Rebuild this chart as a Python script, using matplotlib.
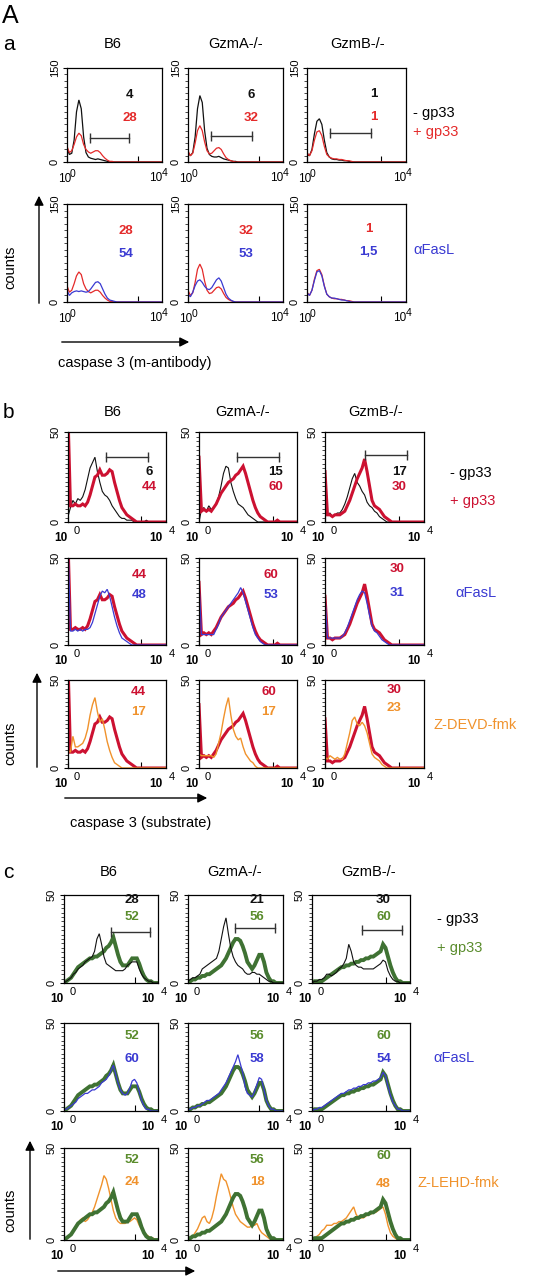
import numpy as np
import matplotlib
matplotlib.use('Agg')
import matplotlib.pyplot as plt
from matplotlib.patches import FancyArrowPatch
from matplotlib.ticker import MultipleLocator, NullFormatter

plt.rcParams['font.family'] = ['Liberation Sans', 'DejaVu Sans']

W, H = 542, 1280

# histogram bins, in decades of the log axis (10^0 .. 10^4)
decades = np.round(np.arange(0, 4.01, 0.1), 1)
samples = ['B6', 'GzmA-/-', 'GzmB-/-']

# ---- panel a : caspase 3 (m-antibody), counts 0-150
a_b6_ctrl = [22, 12, 14, 35, 80, 99, 85, 40, 15, 8, 6, 5, 4, 5, 4, 3, 2, 1, 0, 0,
             0, 0, 0, 0, 0, 0, 0, 0, 0, 0, 0, 0, 0, 0, 0, 0, 0, 0, 0, 0, 0]
a_b6_gp33 = [25, 15, 18, 28, 40, 46, 42, 28, 20, 16, 14, 16, 18, 18, 15, 10, 6, 3, 1, 1,
             0, 0, 0, 0, 0, 0, 0, 0, 0, 0, 0, 0, 0, 0, 0, 0, 0, 0, 0, 0, 0]
a_b6_fasl = [18, 10, 14, 16, 17, 16, 17, 16, 15, 16, 20, 25, 30, 31, 28, 20, 12, 6, 3, 2,
             1, 0, 0, 0, 0, 0, 0, 0, 0, 0, 0, 0, 0, 0, 0, 0, 0, 0, 0, 0, 0]
a_gzma_ctrl = [15, 10, 15, 40, 85, 106, 95, 50, 22, 12, 9, 8, 8, 9, 7, 5, 4, 3, 2, 1,
               1, 0, 0, 0, 0, 0, 0, 0, 0, 0, 0, 0, 0, 0, 0, 0, 0, 0, 0, 0, 0]
a_gzma_gp33 = [18, 10, 14, 30, 50, 58, 50, 32, 18, 13, 14, 18, 22, 23, 20, 13, 7, 4, 2, 1,
               0, 0, 0, 0, 0, 0, 0, 0, 0, 0, 0, 0, 0, 0, 0, 0, 0, 0, 0, 0, 0]
a_gzma_fasl = [12, 8, 15, 25, 32, 34, 30, 24, 20, 19, 22, 28, 34, 37, 32, 22, 12, 6, 3, 1,
               0, 0, 0, 0, 0, 0, 0, 0, 0, 0, 0, 0, 0, 0, 0, 0, 0, 0, 0, 0, 0]
a_gzmb_ctrl = [12, 10, 20, 45, 65, 69, 60, 35, 15, 8, 5, 4, 4, 3, 3, 2, 2, 1, 0, 0,
               0, 0, 0, 0, 0, 0, 0, 0, 0, 0, 0, 0, 0, 0, 0, 0, 0, 0, 0, 0, 0]
a_gzmb_gp33 = [15, 10, 18, 35, 48, 50, 42, 25, 12, 8, 6, 5, 5, 4, 4, 3, 2, 2, 1, 0,
               0, 0, 0, 0, 0, 0, 0, 0, 0, 0, 0, 0, 0, 0, 0, 0, 0, 0, 0, 0, 0]
a_gzmb_fasl = [14, 10, 18, 33, 46, 48, 40, 24, 12, 8, 6, 6, 5, 4, 3, 3, 2, 1, 0, 0,
               0, 0, 0, 0, 0, 0, 0, 0, 0, 0, 0, 0, 0, 0, 0, 0, 0, 0, 0, 0, 0]

# ---- panel b : caspase 3 (substrate), counts 0-50
b_b6_ctrl = [3, 8, 12, 10, 13, 12, 14, 18, 24, 30, 33, 36, 28, 22, 17, 15, 14, 12, 9, 7,
             5, 3, 2, 2, 1, 1, 1, 0, 0, 0, 0, 0, 1, 0, 0, 0, 0, 0, 0, 0, 0]
b_b6_gp33 = [60, 9, 9, 10, 9, 9, 10, 9, 11, 15, 20, 25, 26, 29, 26, 26, 27, 29, 28, 22,
             17, 12, 8, 6, 4, 3, 2, 1, 0, 0, 0, 0, 0, 0, 0, 0, 0, 0, 0, 0, 0]
b_b6_fasl = [60, 8, 8, 9, 8, 9, 8, 9, 9, 10, 13, 18, 23, 28, 31, 30, 32, 28, 22, 16,
             11, 7, 4, 3, 2, 1, 0, 0, 0, 0, 0, 0, 0, 0, 0, 0, 0, 0, 0, 0, 0]
b_b6_inh = [10, 9, 18, 12, 12, 13, 14, 17, 22, 30, 36, 40, 32, 26, 28, 22, 15, 10, 6, 3,
            2, 1, 0, 0, 0, 0, 0, 0, 0, 0, 0, 0, 0, 0, 0, 0, 0, 0, 0, 0, 0]
b_gzma_ctrl = [0, 7, 8, 6, 9, 7, 8, 10, 14, 20, 27, 31, 30, 22, 17, 13, 10, 9, 8, 6,
               4, 3, 2, 1, 0, 0, 0, 0, 0, 0, 0, 0, 0, 0, 0, 0, 0, 0, 0, 0, 0]
b_gzma_gp33 = [36, 6, 7, 6, 7, 6, 8, 10, 13, 16, 18, 20, 22, 23, 24, 26, 27, 29, 31, 27,
               22, 17, 12, 8, 5, 3, 2, 1, 0, 0, 0, 0, 1, 0, 0, 0, 0, 0, 0, 0, 0]
b_gzma_fasl = [36, 6, 6, 6, 6, 6, 6, 9, 12, 16, 18, 20, 22, 24, 26, 28, 30, 33, 30, 25,
               20, 15, 10, 6, 4, 2, 1, 0, 0, 0, 0, 0, 0, 0, 0, 0, 0, 0, 0, 0, 0]
b_gzma_inh = [8, 7, 7, 7, 7, 7, 6, 8, 14, 20, 28, 35, 40, 30, 22, 18, 16, 17, 12, 8,
              6, 4, 3, 1, 0, 0, 0, 0, 0, 0, 0, 0, 0, 0, 0, 0, 0, 0, 0, 0, 0]
b_gzmb_ctrl = [30, 4, 5, 3, 4, 5, 5, 7, 10, 14, 19, 24, 27, 22, 20, 17, 15, 11, 9, 8,
               6, 5, 3, 2, 1, 0, 0, 0, 0, 0, 0, 0, 0, 0, 0, 0, 0, 0, 0, 0, 0]
b_gzmb_gp33 = [28, 4, 4, 3, 4, 4, 4, 5, 6, 9, 12, 16, 20, 24, 27, 30, 35, 28, 20, 12,
               9, 8, 7, 5, 3, 2, 1, 0, 0, 0, 0, 0, 0, 0, 0, 0, 0, 0, 0, 0, 0]
b_gzmb_fasl = [28, 4, 4, 4, 4, 4, 4, 5, 7, 10, 14, 18, 22, 26, 29, 31, 30, 24, 17, 11,
               8, 7, 5, 3, 2, 1, 0, 0, 0, 0, 0, 0, 0, 0, 0, 0, 0, 0, 0, 0, 0]
b_gzmb_inh = [6, 5, 7, 6, 5, 6, 5, 5, 8, 14, 20, 27, 29, 25, 24, 26, 24, 20, 14, 8,
              6, 5, 4, 2, 1, 0, 0, 0, 0, 0, 0, 0, 0, 0, 0, 0, 0, 0, 0, 0, 0]

# ---- panel c : counts 0-50
c_b6_ctrl = [0, 1, 2, 3, 5, 6, 8, 9, 10, 12, 13, 14, 15, 18, 25, 28, 22, 15, 11, 10,
             9, 8, 7, 7, 7, 7, 8, 10, 11, 12, 12, 12, 8, 5, 3, 2, 1, 1, 0, 0, 0]
c_b6_gp33 = [0, 1, 2, 3, 5, 7, 9, 10, 11, 12, 13, 14, 14, 15, 15, 16, 17, 18, 20, 21,
             23, 26, 21, 16, 12, 10, 10, 10, 12, 14, 14, 14, 11, 7, 4, 2, 1, 1, 0, 0, 0]
c_b6_fasl = [1, 1, 2, 3, 4, 5, 7, 8, 9, 10, 10, 11, 12, 12, 13, 14, 16, 17, 18, 20,
             23, 26, 21, 16, 12, 10, 9, 10, 13, 17, 18, 16, 11, 6, 3, 1, 1, 0, 0, 0, 0]
c_b6_inh = [1, 1, 2, 3, 5, 7, 9, 11, 12, 10, 11, 13, 15, 18, 22, 26, 30, 35, 33, 28,
            22, 16, 12, 10, 9, 9, 9, 10, 10, 11, 12, 11, 8, 6, 4, 3, 2, 1, 1, 0, 0]
c_gzma_ctrl = [1, 2, 3, 3, 4, 5, 8, 9, 10, 11, 12, 13, 14, 18, 25, 32, 37, 28, 20, 15,
               12, 10, 9, 8, 6, 5, 5, 6, 6, 5, 5, 4, 3, 2, 1, 1, 0, 0, 0, 0, 0]
c_gzma_gp33 = [1, 1, 2, 2, 3, 3, 4, 4, 5, 5, 6, 7, 8, 9, 10, 12, 14, 17, 20, 23,
               25, 25, 24, 21, 17, 12, 10, 8, 10, 13, 16, 16, 12, 6, 3, 1, 1, 0, 0, 0, 0]
c_gzma_fasl = [1, 1, 2, 2, 3, 3, 4, 5, 6, 6, 7, 8, 9, 10, 12, 14, 16, 19, 22, 25,
               28, 32, 27, 22, 14, 10, 9, 8, 11, 15, 19, 18, 12, 6, 3, 1, 1, 0, 0, 0, 0]
c_gzma_inh = [1, 1, 2, 4, 6, 9, 12, 13, 10, 9, 12, 17, 24, 30, 36, 33, 32, 28, 23, 18,
              14, 12, 10, 9, 8, 7, 7, 8, 8, 9, 6, 4, 3, 2, 1, 0, 0, 0, 0, 0, 0]
c_gzmb_ctrl = [0, 1, 1, 2, 2, 3, 5, 5, 4, 5, 6, 8, 9, 11, 14, 22, 18, 12, 10, 9,
               9, 8, 8, 8, 8, 8, 9, 10, 11, 13, 12, 7, 4, 2, 1, 1, 0, 0, 0, 0, 0]
c_gzmb_gp33 = [0, 1, 1, 1, 1, 2, 3, 4, 5, 6, 7, 8, 9, 9, 10, 10, 11, 11, 12, 12,
               13, 13, 14, 14, 15, 15, 16, 17, 18, 22, 20, 15, 10, 6, 3, 1, 1, 0, 0, 0, 0]
c_gzmb_fasl = [0, 1, 1, 2, 2, 3, 4, 5, 6, 7, 8, 9, 10, 10, 11, 12, 12, 13, 13, 14,
               14, 15, 15, 16, 16, 17, 17, 18, 19, 22, 20, 14, 9, 5, 3, 1, 1, 0, 0, 0, 0]
c_gzmb_inh = [0, 1, 2, 3, 5, 6, 8, 8, 8, 9, 9, 10, 10, 11, 12, 14, 16, 18, 14, 12,
              12, 12, 13, 14, 14, 15, 15, 16, 17, 18, 14, 8, 4, 2, 1, 0, 0, 0, 0, 0, 0]

# percentages printed in each histogram (upper, lower)
a_nums = [[('4', '28'), ('6', '32'), ('1', '1')],
          [('28', '54'), ('32', '53'), ('1', '1,5')]]
b_nums = [[('6', '44'), ('15', '60'), ('17', '30')],
          [('44', '48'), ('60', '53'), ('30', '31')],
          [('44', '17'), ('60', '17'), ('30', '23')]]
c_nums = [[('28', '52'), ('21', '56'), ('30', '60')],
          [('52', '60'), ('56', '58'), ('60', '54')],
          [('52', '24'), ('56', '18'), ('60', '48')]]

# gate markers (start decade, end decade, count)
a_gates = [(0.96, 2.6, 38), (0.97, 2.7, 42), (0.93, 2.6, 46)]
b_gates = [(1.55, 3.26, 36), (1.57, 3.25, 36), (1.6, 3.3, 37)]
c_gates = [(2.0, 3.65, 29), (1.98, 3.65, 31), (2.03, 3.66, 30)]

BLACK = '#111111'
RED_A = '#e42a2a'
RED_B = '#cc1131'
BLUE = '#3a3ad2'
ORANGE = '#f0922c'
GREEN = '#3f7233'
GREEN_T = '#5a8c2c'

fig = plt.figure(figsize=(W / 100, H / 100), dpi=100)


def box(x0, x1, y0, y1):
    return [x0 / W, 1 - y1 / H, (x1 - x0) / W, (y1 - y0) / H]


def ftext(x, y, s, **kw):
    kw.setdefault('ha', 'left')
    kw.setdefault('va', 'center')
    fig.text(x / W, 1 - y / H, s, **kw)


def arrow(x0, y0, x1, y1):
    fig.add_artist(FancyArrowPatch((x0 / W, 1 - y0 / H), (x1 / W, 1 - y1 / H),
                                   transform=fig.transFigure, arrowstyle='-|>',
                                   mutation_scale=14, lw=1.0, color='black'))


def hist_axes(x0, x1, y0, y1, ymax, minor_step):
    ax = fig.add_axes(box(x0, x1, y0, y1))
    ax.set_xscale('log')
    ax.set_xlim(1, 1e4)
    ax.set_ylim(0, ymax)
    ax.set_yticks([0, ymax])
    ax.set_yticklabels(['0', str(ymax)], rotation=90, va='center', fontsize=8)
    ax.yaxis.set_minor_locator(MultipleLocator(minor_step))
    ax.xaxis.set_minor_formatter(NullFormatter())
    ax.tick_params(axis='y', which='major', direction='out', length=3, pad=2, width=0.8)
    ax.tick_params(axis='y', which='minor', direction='out', length=2, width=0.5)
    ax.tick_params(axis='x', which='major', direction='in', length=4, width=0.8,
                   labelbottom=False)
    ax.tick_params(axis='x', which='minor', direction='in', length=3, width=0.6,
                   labelbottom=False)
    for s in ax.spines.values():
        s.set_linewidth(0.9)
    return ax


def x_labels(x0, x1, y1, small):
    if small:
        ftext(x0 - 2, y1 + 17, '10', ha='center', fontsize=8.5)
        ftext(x0 + 6, y1 + 12, '0', ha='center', fontsize=7.5)
        ftext(x1 - 6, y1 + 16, '10', ha='center', fontsize=8.5)
        ftext(x1 + 3, y1 + 11, '4', ha='center', fontsize=7.5)
    else:
        ftext(x0 - 7, y1 + 16, '10', ha='center', fontsize=8.5, fontweight='bold')
        ftext(x0 + 9, y1 + 9, '0', ha='center', fontsize=8)
        ftext(x1 - 10, y1 + 16, '10', ha='center', fontsize=8.5, fontweight='bold')
        ftext(x1 + 6, y1 + 9, '4', ha='center', fontsize=8)


def draw(ax, vals, color, lw):
    ax.plot(10 ** decades, vals, color=color, lw=lw, solid_joinstyle='miter')


def gate(ax, g):
    ax.plot([10 ** g[0], 10 ** g[1]], [g[2], g[2]], color='#333333', lw=1.0,
            marker='|', markersize=7, markeredgewidth=1.0)


def panel(cols, rows, ymax, minor, curves, nums, num_xy, num_cols, gates, small):
    for r, (y0, y1) in enumerate(rows):
        for c, (x0, x1) in enumerate(cols):
            ax = hist_axes(x0, x1, y0, y1, ymax, minor)
            for vals, color, lw in curves[r][c]:
                draw(ax, vals, color, lw)
            if r == 0:
                gate(ax, gates[c])
            nx, ny_top, ny_bot = num_xy[r][c]
            ax.text(nx, ny_top, nums[r][c][0], transform=ax.transAxes, ha='center',
                    va='center', fontsize=9.5, fontweight='bold', color=num_cols[r][0])
            ax.text(nx, ny_bot, nums[r][c][1], transform=ax.transAxes, ha='center',
                    va='center', fontsize=9.5, fontweight='bold', color=num_cols[r][1])
            x_labels(x0, x1, y1, small)


# ---------------- panel a
ftext(2, 16, 'A', fontsize=18)
ftext(3, 44, 'a', fontsize=15)
for x, s in zip([113, 236, 358], samples):
    ftext(x, 44, s, ha='center', fontsize=10.5)
a_cols = [(67, 162), (188, 283), (307, 406)]
a_rows = [(68, 162), (204, 302)]
a_curves = [
    [[(a_b6_ctrl, BLACK, 0.9), (a_b6_gp33, RED_A, 0.9)],
     [(a_gzma_ctrl, BLACK, 0.9), (a_gzma_gp33, RED_A, 0.9)],
     [(a_gzmb_ctrl, BLACK, 0.9), (a_gzmb_gp33, RED_A, 0.9)]],
    [[(a_b6_gp33, RED_A, 0.9), (a_b6_fasl, BLUE, 0.9)],
     [(a_gzma_gp33, RED_A, 0.9), (a_gzma_fasl, BLUE, 0.9)],
     [(a_gzmb_gp33, RED_A, 0.9), (a_gzmb_fasl, BLUE, 0.9)]],
]
a_num_xy = [[(0.66, 0.71, 0.47), (0.66, 0.71, 0.47), (0.67, 0.72, 0.48)],
            [(0.62, 0.72, 0.49), (0.61, 0.72, 0.49), (0.62, 0.74, 0.51)]]
panel(a_cols, a_rows, 150, 10, a_curves, a_nums, a_num_xy,
      [(BLACK, RED_A), (RED_A, BLUE)], a_gates, True)
ftext(413, 113, '- gp33', fontsize=10.5)
ftext(413, 132, '+ gp33', fontsize=10.5, color=RED_A)
ftext(413, 250, '\u03b1FasL', fontsize=10.5, color=BLUE)
ftext(10, 267, 'counts', rotation=90, ha='center', fontsize=10.5)
arrow(39, 306, 39, 193)
arrow(59, 342, 192, 342)
ftext(58, 363, 'caspase 3 (m-antibody)', fontsize=10.5)

# ---------------- panel b
ftext(3, 412, 'b', fontsize=15)
for x, s in zip([113, 243, 376], samples):
    ftext(x, 412, s, ha='center', fontsize=10.5)
b_cols = [(68, 166), (199, 297), (325, 424)]
b_rows = [(432, 522), (558, 645), (680, 768)]
b_curves = [
    [[(b_b6_ctrl, BLACK, 0.8), (b_b6_gp33, RED_B, 2.2)],
     [(b_gzma_ctrl, BLACK, 0.8), (b_gzma_gp33, RED_B, 2.2)],
     [(b_gzmb_ctrl, BLACK, 0.8), (b_gzmb_gp33, RED_B, 2.2)]],
    [[(b_b6_gp33, RED_B, 2.2), (b_b6_fasl, BLUE, 0.9)],
     [(b_gzma_gp33, RED_B, 2.2), (b_gzma_fasl, BLUE, 0.9)],
     [(b_gzmb_gp33, RED_B, 2.2), (b_gzmb_fasl, BLUE, 0.9)]],
    [[(b_b6_gp33, RED_B, 2.2), (b_b6_inh, ORANGE, 1.0)],
     [(b_gzma_gp33, RED_B, 2.2), (b_gzma_inh, ORANGE, 1.0)],
     [(b_gzmb_gp33, RED_B, 2.2), (b_gzmb_inh, ORANGE, 1.0)]],
]
b_num_xy = [[(0.83, 0.56, 0.39), (0.78, 0.56, 0.39), (0.75, 0.56, 0.39)],
            [(0.73, 0.80, 0.57), (0.73, 0.80, 0.57), (0.73, 0.87, 0.60)],
            [(0.72, 0.86, 0.64), (0.71, 0.86, 0.64), (0.70, 0.89, 0.68)]]
panel(b_cols, b_rows, 50, 2.5, b_curves, b_nums, b_num_xy,
      [(BLACK, RED_B), (RED_B, BLUE), (RED_B, ORANGE)], b_gates, False)
ftext(450, 473, '- gp33', fontsize=10.5)
ftext(450, 501, '+ gp33', fontsize=10.5, color=RED_B)
ftext(455, 593, '\u03b1FasL', fontsize=10.5, color=BLUE)
ftext(433, 725, 'Z-DEVD-fmk', fontsize=10.5, color=ORANGE)
ftext(10, 743, 'counts', rotation=90, ha='center', fontsize=10.5)
arrow(37, 770, 37, 670)
arrow(62, 798, 210, 798)
ftext(70, 823, 'caspase 3 (substrate)', fontsize=10.5)

# ---------------- panel c
ftext(3, 872, 'c', fontsize=15)
for x, s in zip([109, 235, 369], samples):
    ftext(x, 872, s, ha='center', fontsize=10.5)
c_cols = [(64, 158), (188, 283), (312, 410)]
c_rows = [(895, 983), (1023, 1111), (1148, 1240)]
c_curves = [
    [[(c_b6_gp33, GREEN, 2.8), (c_b6_ctrl, BLACK, 0.8)],
     [(c_gzma_gp33, GREEN, 2.8), (c_gzma_ctrl, BLACK, 0.8)],
     [(c_gzmb_gp33, GREEN, 2.8), (c_gzmb_ctrl, BLACK, 0.8)]],
    [[(c_b6_gp33, GREEN, 2.8), (c_b6_fasl, BLUE, 0.9)],
     [(c_gzma_gp33, GREEN, 2.8), (c_gzma_fasl, BLUE, 0.9)],
     [(c_gzmb_gp33, GREEN, 2.8), (c_gzmb_fasl, BLUE, 0.9)]],
    [[(c_b6_inh, ORANGE, 1.0), (c_b6_gp33, GREEN, 2.8)],
     [(c_gzma_inh, ORANGE, 1.0), (c_gzma_gp33, GREEN, 2.8)],
     [(c_gzmb_inh, ORANGE, 1.0), (c_gzmb_gp33, GREEN, 2.8)]],
]
c_num_xy = [[(0.72, 0.94, 0.75), (0.73, 0.94, 0.75), (0.73, 0.94, 0.75)],
            [(0.72, 0.85, 0.59), (0.73, 0.85, 0.59), (0.73, 0.85, 0.59)],
            [(0.72, 0.87, 0.63), (0.73, 0.87, 0.63), (0.73, 0.91, 0.61)]]
panel(c_cols, c_rows, 50, 2.5, c_curves, c_nums, c_num_xy,
      [(BLACK, GREEN_T), (GREEN_T, BLUE), (GREEN_T, ORANGE)], c_gates, False)
ftext(437, 919, '- gp33', fontsize=10.5)
ftext(437, 948, '+ gp33', fontsize=10.5, color=GREEN_T)
ftext(433, 1058, '\u03b1FasL', fontsize=10.5, color=BLUE)
ftext(417, 1183, 'Z-LEHD-fmk', fontsize=10.5, color=ORANGE)
ftext(10, 1210, 'counts', rotation=90, ha='center', fontsize=10.5)
arrow(30, 1242, 30, 1138)
arrow(55, 1271, 198, 1271)

fig.savefig('out.png', dpi=100)
